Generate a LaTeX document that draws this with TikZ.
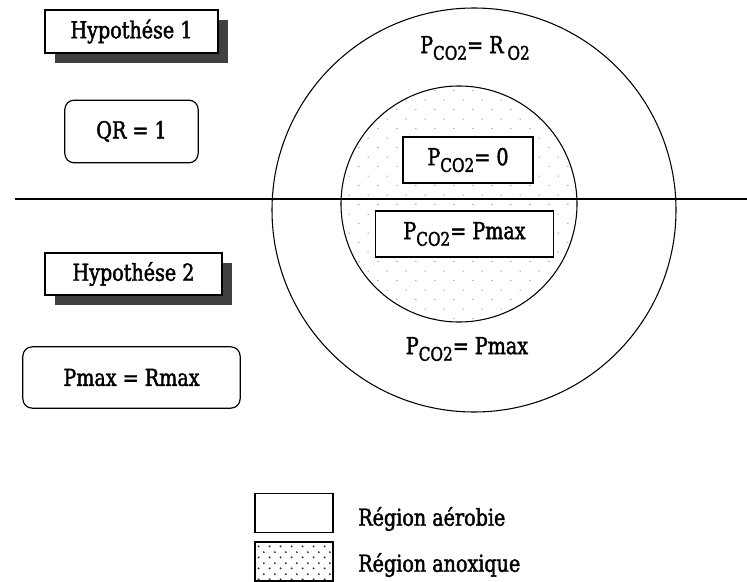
\documentclass[tikz,border=0pt]{standalone}
\usepackage{fontspec}
\setmainfont{DejaVu Serif}[FakeStretch=0.82, FakeBold=1.8]
\usetikzlibrary{shadows,patterns}
\pgfdeclarepatternformonly{sparsedots}{\pgfpointorigin}{\pgfqpoint{14pt}{14pt}}{\pgfqpoint{14pt}{14pt}}{%
  \pgfpathcircle{\pgfqpoint{3pt}{2pt}}{0.45pt}%
  \pgfpathcircle{\pgfqpoint{10pt}{9pt}}{0.45pt}%
  \pgfusepath{fill}}
\pgfdeclarepatternformonly{densedots}{\pgfpointorigin}{\pgfqpoint{8pt}{8pt}}{\pgfqpoint{8pt}{8pt}}{%
  \pgfpathcircle{\pgfqpoint{2pt}{2pt}}{0.8pt}%
  \pgfpathcircle{\pgfqpoint{6pt}{6pt}}{0.8pt}%
  \pgfusepath{fill}}
\newcommand\subx[1]{\raisebox{-0.55ex}{\fontsize{14}{14}\selectfont #1}}
\tikzset{
  every node/.style={font=\fontsize{17.5}{19}\selectfont, inner sep=0pt},
  shadowbox/.style={draw, line width=1.1pt, fill=white,
    drop shadow={shadow xshift=7.5pt, shadow yshift=-7.5pt, fill=black!75, opacity=1}},
  roundbox/.style={draw, line width=0.9pt, rounded corners=7pt, fill=white},
  valbox/.style={draw, line width=0.9pt, fill=white},
  circ/.style={draw, line width=0.8pt},
  legbox/.style={draw, line width=1.1pt, minimum width=58.5pt, minimum height=29.5pt},
  lbl/.style={anchor=west}
}
\begin{document}
\begin{tikzpicture}[x=0.75pt,y=-0.75pt]
\useasboundingbox (0,0) rectangle (747,582);
% circles
\node[circ, circle, minimum size=303pt] (outer) at (474,210) {};
\node[circle, minimum size=177pt, pattern=sparsedots, pattern color=black!55] (inner) at (459,204) {};
\node[circ, circle, minimum size=177pt] (innerline) at (459,204) {};
% dividing line
\coordinate (L) at (15,199);
\coordinate (R) at (747,199);
\draw[line width=1pt] (L) -- (R);
% left boxes
\node[shadowbox, minimum width=130pt, minimum height=32pt] (h1) at (131.5,31.5) {Hypothése 1};
\node[roundbox, minimum width=100pt, minimum height=47pt] (qr) at (131.5,131.5) {QR = 1};
\node[shadowbox, minimum width=133pt, minimum height=31.5pt] (h2) at (133.5,274) {Hypothése 2};
\node[roundbox, minimum width=163pt, minimum height=46pt] (pr) at (131.5,377.5) {Pmax = Rmax};
% circle labels
\node (ro) at (475,48) {P\subx{CO2}= R\,\subx{O2}};
\node[valbox, minimum width=97.5pt, minimum height=34.5pt] (p0) at (468,160) {P\subx{CO2}= 0};
\node[valbox, minimum width=133pt, minimum height=34.5pt] (pm) at (464.5,234) {P\subx{CO2}= Pmax};
\node (pb) at (467,349) {P\subx{CO2}= Pmax};
% legend
\node[legbox, pattern=densedots, pattern color=black!80] (lg2) at (294,561.5) {};
\node[legbox] (lg2b) at (294,561.5) {};
\node[legbox] (lg1) at (294,513) {};
\node[lbl] (t1) at (358,519) {Région aérobie};
\node[lbl] (t2) at (358,565) {Région anoxique};
\end{tikzpicture}
\end{document}
